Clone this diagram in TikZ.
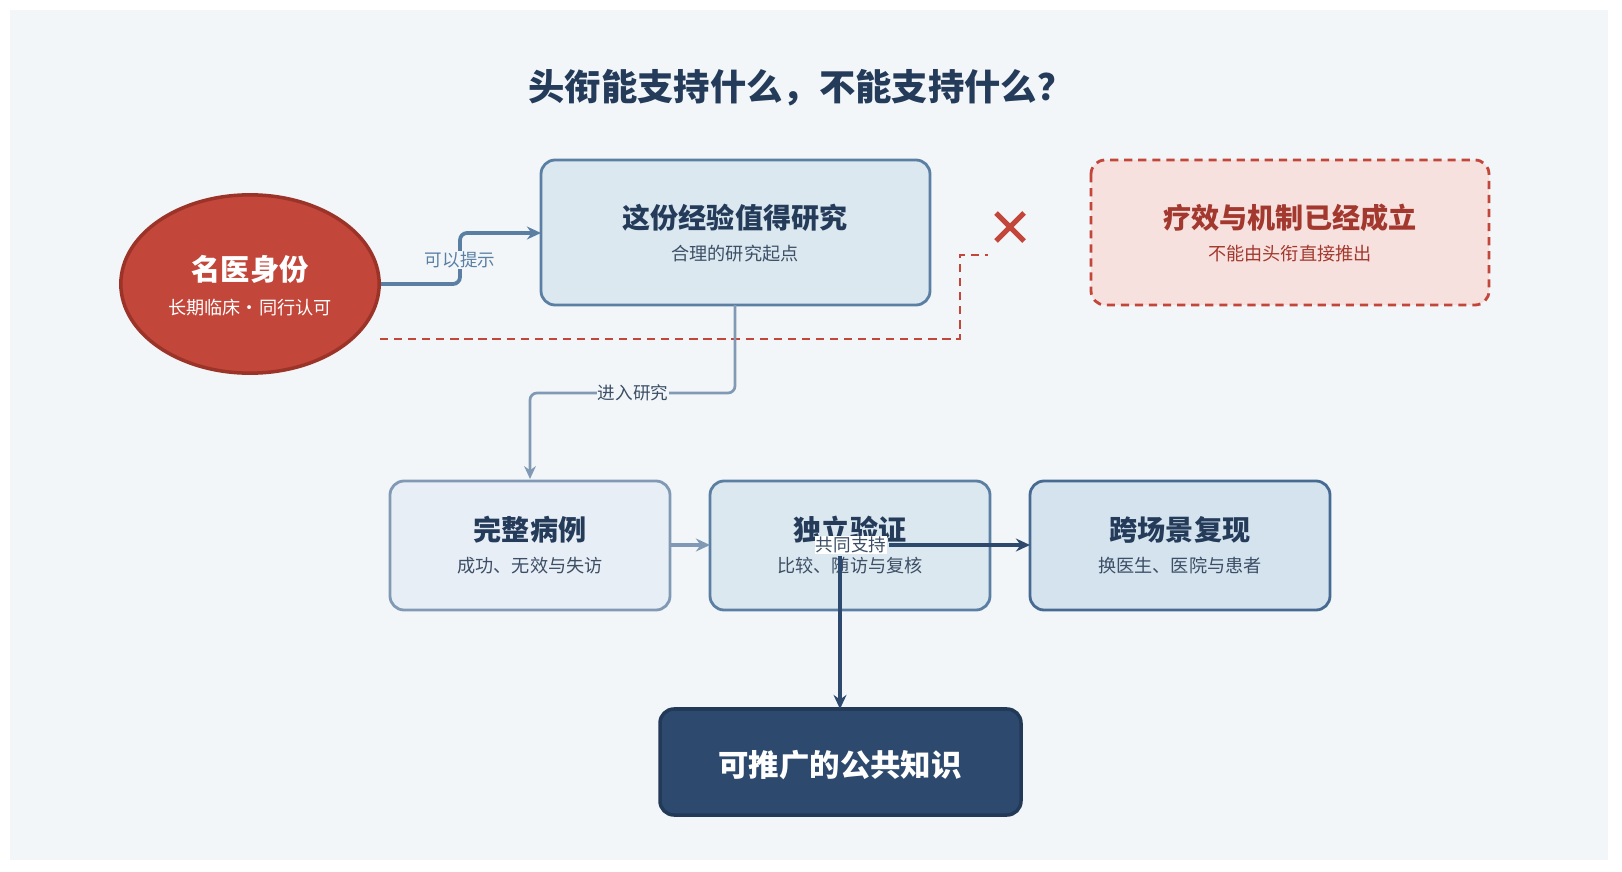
\documentclass[tikz,border=0pt]{standalone}
\usepackage{fontspec}
\setmainfont{Noto Sans CJK SC}
\usetikzlibrary{arrows.meta}
\usetikzlibrary{shapes.geometric}

\definecolor{bgc}{HTML}{F2F6F9}
\definecolor{titlec}{HTML}{243B5A}
\definecolor{redf}{HTML}{C2463A}
\definecolor{redd}{HTML}{9C3328}
\definecolor{redt}{HTML}{A3392E}
\definecolor{pinkf}{HTML}{F7E1DF}
\definecolor{bluef}{HTML}{DCE8F0}
\definecolor{blued}{HTML}{5A7FA3}
\definecolor{greyf}{HTML}{E8EEF5}
\definecolor{greyd}{HTML}{8199B4}
\definecolor{skyf}{HTML}{D5E3EE}
\definecolor{skyd}{HTML}{466A92}
\definecolor{navy}{HTML}{2D4A6E}
\definecolor{navyd}{HTML}{223A58}
\definecolor{subc}{HTML}{3C4F66}

\tikzset{
  box/.style={draw, rounded corners=12pt, line width=2.4pt},
  head/.style={font=\fontsize{24}{27}\selectfont\bfseries, text=titlec},
  sub/.style={font=\fontsize{15.5}{18}\selectfont, text=subc},
  lab/.style={font=\fontsize{15}{17}\selectfont, fill=bgc, inner sep=1pt},
}

\begin{document}
\begin{tikzpicture}[x=0.03cm, y=-0.03cm]
		\useasboundingbox (0,0) rectangle (1622,872);
		\fill[white] (0,0) rectangle (1622,872);
		\fill[bgc] (10,10) rectangle (1608,860);

		% titre
		\node[font=\fontsize{31}{35}\selectfont\bfseries, text=titlec] (title) at (801,88) {头衔能支持什么，不能支持什么？};

		% ligne pointillee rouge (derriere)
		\draw[redf, line width=2.2pt, dash pattern=on 7pt off 5pt]
			(380,339) -- (960,339) -- (960,255) -- (988,255);

		% identite
		\node[ellipse, draw=redd, fill=redf, line width=3pt, inner sep=0pt, minimum width=7.75cm, minimum height=5.35cm] (fame) at (250,284) {};
		\node[font=\fontsize{25}{28}\selectfont\bfseries, text=white] (famet) at (250,269) {名医身份};
		\node[font=\fontsize{15.5}{18}\selectfont, text=white] (fames) at (250,308) {长期临床·同行认可};

		% hypothese
		\draw[box, draw=blued, fill=bluef] (541,160) rectangle (930,305);
		\node[head] (hyp) at (735,218) {这份经验值得研究};
		\node[sub] (hyps) at (735,254) {合理的研究起点};
		\coordinate (hypw) at (541,233);
		\coordinate (hyps0) at (735,305);

		% conclusion refusee
		\draw[box, draw=redf, fill=pinkf, dash pattern=on 7pt off 5pt] (1091,160) rectangle (1489,305);
		\node[head, text=redt] (bad) at (1290,218) {疗效与机制已经成立};
		\node[sub, text=redt] (bads) at (1290,254) {不能由头衔直接推出};
		\coordinate (cross) at (1010,227);
		\draw[redf, line width=4.5pt] ([shift={(-14,-14)}]cross) -- ([shift={(14,14)}]cross)
			([shift={(-14,14)}]cross) -- ([shift={(14,-14)}]cross);

		% rangee
		\draw[box, draw=greyd, fill=greyf] (390,481) rectangle (670,610);
		\node[head] (cases) at (530,530) {完整病例};
		\node[sub] (casess) at (530,566) {成功、无效与失访};
		\draw[box, draw=blued, fill=bluef] (710,481) rectangle (990,610);
		\node[head] (check) at (850,530) {独立验证};
		\node[sub] (checks) at (850,566) {比较、随访与复核};
		\draw[box, draw=skyd, fill=skyf] (1030,481) rectangle (1330,610);
		\node[head] (repl) at (1180,530) {跨场景复现};
		\node[sub] (repls) at (1180,566) {换医生、医院与患者};

		% savoir public
		\draw[box, draw=navyd, fill=navy, line width=3pt] (660,709) rectangle (1021,815);
		\node[font=\fontsize{26}{29}\selectfont\bfseries, text=white] (pub) at (840,765) {可推广的公共知识};

		% fleches
		\draw[-{Stealth[length=12pt,width=11pt]}, blued, line width=3.2pt, rounded corners=6pt]
			(381,284) -- (460,284) -- (460,233) -- (hypw);
		\node[lab, text=blued] (l1) at (460,260) {可以提示};

		\draw[-{Stealth[length=11pt,width=10pt]}, greyd, line width=2.3pt, rounded corners=6pt]
			(hyps0) -- (735,393) -- (530,393) -- (530,479);
		\node[lab, text=subc] (l2) at (633,393) {进入研究};

		\draw[-{Stealth[length=12pt,width=11pt]}, greyd, line width=3.2pt] (670,545) -- (710,545);

		\draw[-{Stealth[length=12pt,width=11pt]}, navy, line width=3.2pt] (889,545) -- (1030,545);
		\draw[-{Stealth[length=12pt,width=11pt]}, navy, line width=3.2pt] (840,556) -- (840,709);
		\node[font=\fontsize{15}{17}\selectfont, text=subc, fill=white, inner sep=0.5pt] (l3) at (851,545) {共同支持};
\end{tikzpicture}
\end{document}
